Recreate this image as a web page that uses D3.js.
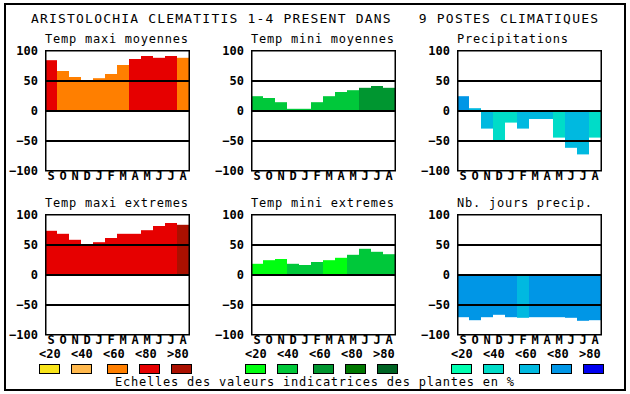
<!DOCTYPE html>
<html>
<head>
<meta charset="utf-8">
<script src="https://cdn.jsdelivr.net/npm/d3@7"></script>
<style>
body { margin: 0; background: #fff; }
svg { display: block; font-family: "DejaVu Sans Mono", monospace; }
</style>
</head>
<body>
<svg id="chart" width="630" height="394"></svg>
<script>
// data
var months = ["S", "O", "N", "D", "J", "F", "M", "A", "M", "J", "J", "A"];
var yTicks = [100, 50, 0, -50, -100];
var classLabels = ["<20", "<40", "<60", "<80", ">80"];

var redColors = ["#f8e41a", "#ffb84c", "#ff7f00", "#e60000", "#aa1000"];
var greenColors = ["#00ff10", "#00c83a", "#009630", "#007800", "#006424"];
var blueColors = ["#00ffb0", "#00dcc8", "#00b9e0", "#0096e6", "#0000f0"];

var tmaxMoy = [83, 65, 55, 47, 53, 60, 75, 85, 90, 87, 90, 87];
var tmaxMoyClass = [3, 2, 2, 2, 2, 2, 2, 3, 3, 3, 3, 2];
var tminMoy = [23, 20, 13, 2, 2, 13, 23, 30, 33, 37, 40, 37];
var tminMoyClass = [1, 1, 1, 1, 1, 1, 1, 1, 1, 2, 2, 2];
var precip = [23, 3, -31, -53, -21, -31, -15, -15, -46, -63, -74, -46];
var precipClass = [3, 2, 2, 1, 1, 2, 2, 2, 1, 2, 2, 1];
var tmaxExt = [72, 67, 57, 49, 53, 60, 67, 67, 73, 80, 85, 82];
var tmaxExtClass = [3, 3, 3, 3, 3, 3, 3, 3, 3, 3, 3, 4];
var tminExt = [17, 23, 25, 17, 15, 20, 23, 27, 32, 42, 37, 33];
var tminExtClass = [0, 0, 0, 1, 1, 1, 0, 0, 1, 1, 1, 1];
var nbJours = [-72, -77, -72, -68, -72, -73, -72, -72, -72, -73, -78, -77];
var nbJoursClass = [3, 3, 3, 3, 3, 2, 3, 3, 3, 3, 3, 3];

var svg = d3.select("#chart");

// outer frame
svg.append("rect")
  .attr("x", 5).attr("y", 4)
  .attr("width", 620).attr("height", 386)
  .style("fill", "none").style("stroke", "black").style("stroke-width", 2);

var title = "ARISTOLOCHIA CLEMATITIS 1-4 PRESENT DANS   9 POSTES CLIMATIQUES";
svg.append("text")
  .text(title)
  .attr("x", 31).attr("y", 23)
  .attr("font-size", 13)
  .attr("textLength", title.length * 9)
  .attr("lengthAdjust", "spacing")
  .style("white-space", "pre");

var plotW = 144, plotH = 120;

var x = d3.scaleBand().domain(d3.range(12)).range([0, plotW]).padding(0);
var y = d3.scaleLinear().domain([-100, 100]).range([plotH, 0]);

function drawPanel(left, top, name, values, classes, colors) {
  var g = svg.append("g").attr("transform", "translate(" + left + "," + top + ")");

  g.append("text")
    .text(name)
    .attr("x", 0).attr("y", -7)
    .attr("font-size", 12)
    .attr("textLength", name.length * 8 - 1)
    .attr("lengthAdjust", "spacing");

  g.selectAll("rect.bar")
    .data(values)
    .enter().append("rect")
    .attr("class", "bar")
    .attr("x", function (d, i) { return x(i); })
    .attr("width", x.bandwidth())
    .attr("y", function (d) { return y(Math.max(0, d)); })
    .attr("height", function (d) { return Math.abs(y(d) - y(0)); })
    .style("fill", function (d, i) { return colors[classes[i]]; });

  // lines at 50, 0, -50
  g.selectAll("line.grid")
    .data([50, 0, -50])
    .enter().append("line")
    .attr("class", "grid")
    .attr("x1", 0).attr("x2", plotW)
    .attr("y1", function (d) { return y(d) + 1; })
    .attr("y2", function (d) { return y(d) + 1; })
    .style("stroke", "black").style("stroke-width", 2);

  g.append("rect")
    .attr("x", 0.75).attr("y", 0.75)
    .attr("width", plotW - 0.5).attr("height", plotH)
    .style("fill", "none").style("stroke", "black").style("stroke-width", 1.5);

  var yAxis = g.append("g")
    .call(d3.axisLeft(y).tickValues(yTicks).tickSize(0).tickPadding(7).tickFormat(d3.format("d")));
  yAxis.select(".domain").remove();
  yAxis.selectAll("text")
    .attr("font-family", "DejaVu Sans Mono")
    .attr("font-weight", "bold")
    .attr("font-size", 12)
    .attr("dy", "0.36em")
    .style("fill", "black");

  var xAxis = g.append("g")
    .attr("transform", "translate(0," + plotH + ")")
    .call(d3.axisBottom(x).tickSize(0).tickFormat(function (i) { return months[i]; }));
  xAxis.select(".domain").remove();
  xAxis.selectAll("text")
    .attr("font-family", "DejaVu Sans Mono")
    .attr("font-weight", "bold")
    .attr("font-size", 12)
    .attr("y", 10).attr("dy", 0)
    .style("fill", "black");
}

function drawLegend(left, colors) {
  var labelX = [-6, 26, 58, 90, 122];
  var boxX = [-6, 26, 62, 94, 126];
  var g = svg.append("g").attr("transform", "translate(" + left + ",0)");
  g.selectAll("text")
    .data(classLabels)
    .enter().append("text")
    .text(function (d) { return d; })
    .attr("x", function (d, i) { return labelX[i]; })
    .attr("y", 358)
    .attr("font-size", 12)
    .attr("font-weight", "bold");
  g.selectAll("rect")
    .data(colors)
    .enter().append("rect")
    .attr("x", function (d, i) { return boxX[i] + 0.5; })
    .attr("y", 364.5)
    .attr("width", 20).attr("height", 9)
    .style("fill", function (d) { return d; })
    .style("stroke", "black").style("stroke-width", 1);
}

drawPanel(45, 50, "Temp maxi moyennes", tmaxMoy, tmaxMoyClass, redColors);
drawPanel(251, 50, "Temp mini moyennes", tminMoy, tminMoyClass, greenColors);
drawPanel(457, 50, "Precipitations", precip, precipClass, blueColors);
drawPanel(45, 214, "Temp maxi extremes", tmaxExt, tmaxExtClass, redColors);
drawPanel(251, 214, "Temp mini extremes", tminExt, tminExtClass, greenColors);
drawPanel(457, 214, "Nb. jours precip.", nbJours, nbJoursClass, blueColors);

drawLegend(45, redColors);
drawLegend(251, greenColors);
drawLegend(457, blueColors);

var foot = "Echelles des valeurs indicatrices des plantes en %";
svg.append("text")
  .text(foot)
  .attr("x", 115).attr("y", 386)
  .attr("font-size", 12)
  .attr("textLength", foot.length * 8 - 1)
  .attr("lengthAdjust", "spacing");
</script>
</body>
</html>
